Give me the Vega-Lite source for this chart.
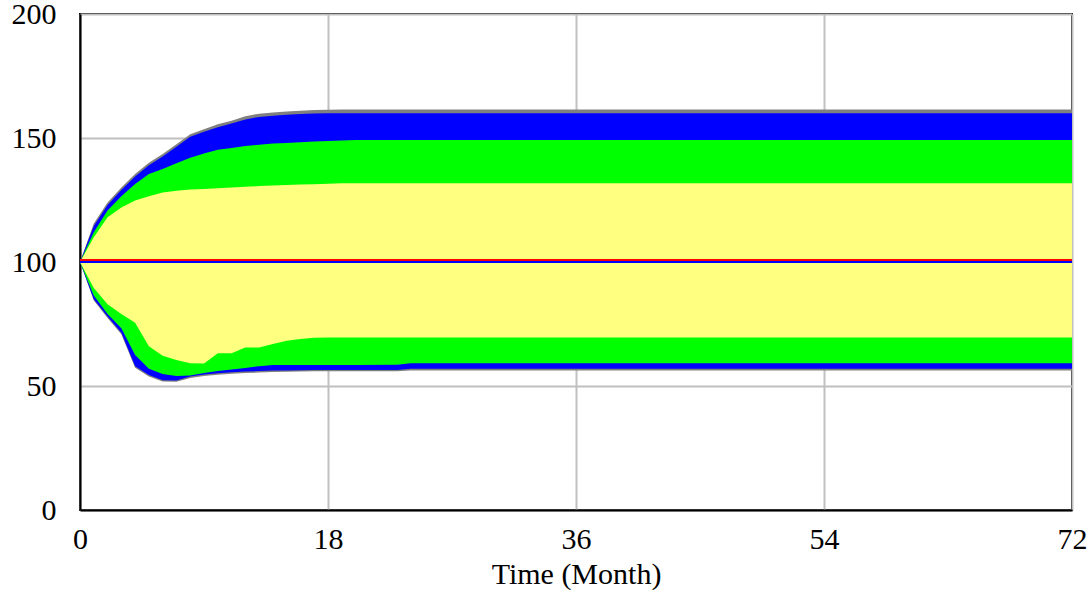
{
  "$schema": "https://vega.github.io/schema/vega-lite/v6.json",
  "autosize": {"type": "none"},
  "padding": {"left": 80, "top": 14, "right": 20, "bottom": 84},
  "width": 992,
  "height": 496,
  "background": "white",
  "config": {
    "view": {"stroke": "black", "strokeWidth": 2},
    "font": "Liberation Serif",
    "axis": {
      "labelFont": "Liberation Serif",
      "titleFont": "Liberation Serif",
      "labelFontSize": 30,
      "titleFontSize": 30,
      "titleFontWeight": "normal",
      "labelColor": "black",
      "titleColor": "black",
      "domainColor": "black",
      "domainWidth": 2,
      "ticks": false,
      "gridColor": "#c0c0c0",
      "gridWidth": 2,
      "gridOpacity": 1,
      "zindex": 1
    }
  },
  "data": {
    "values": [
      {"t": 0, "gmax": 100, "bhi": 100, "ghi": 100, "yhi": 100, "ylo": 100, "glo": 100, "blo": 100, "gmin": 100, "base": 100},
      {"t": 1, "gmax": 115.5, "bhi": 114.5, "ghi": 112, "yhi": 110, "ylo": 89.5, "glo": 86.5, "blo": 85, "gmin": 84.5, "base": 100},
      {"t": 2, "gmax": 124, "bhi": 123, "ghi": 120.8, "yhi": 118, "ylo": 83, "glo": 79, "blo": 78, "gmin": 77.4, "base": 100},
      {"t": 3, "gmax": 130, "bhi": 129, "ghi": 126.5, "yhi": 122, "ylo": 79, "glo": 73.3, "blo": 71.5, "gmin": 70.9, "base": 100},
      {"t": 4, "gmax": 135.5, "bhi": 134.5, "ghi": 131.5, "yhi": 124.8, "ylo": 75.5, "glo": 62.5, "blo": 58, "gmin": 57.4, "base": 100},
      {"t": 5, "gmax": 140, "bhi": 139, "ghi": 135.5, "yhi": 126.5, "ylo": 66, "glo": 57, "blo": 54.4, "gmin": 53.8, "base": 100},
      {"t": 6, "gmax": 143.5, "bhi": 142.5, "ghi": 137.5, "yhi": 128, "ylo": 62.2, "glo": 54.8, "blo": 52.3, "gmin": 51.8, "base": 100},
      {"t": 7, "gmax": 147.5, "bhi": 146.5, "ghi": 139.8, "yhi": 128.7, "ylo": 60.5, "glo": 54, "blo": 52.2, "gmin": 51.7, "base": 100},
      {"t": 8, "gmax": 151.5, "bhi": 150.5, "ghi": 142, "yhi": 129.2, "ylo": 59.2, "glo": 54.2, "blo": 53.8, "gmin": 53.2, "base": 100},
      {"t": 9, "gmax": 153.5, "bhi": 152.5, "ghi": 143.8, "yhi": 129.4, "ylo": 59.1, "glo": 55.2, "blo": 54.6, "gmin": 54, "base": 100},
      {"t": 10, "gmax": 155.5, "bhi": 154.3, "ghi": 145.3, "yhi": 129.7, "ylo": 63.2, "glo": 56, "blo": 55.1, "gmin": 54.5, "base": 100},
      {"t": 11, "gmax": 157, "bhi": 155.8, "ghi": 146, "yhi": 130, "ylo": 63.2, "glo": 56.7, "blo": 55.5, "gmin": 54.9, "base": 100},
      {"t": 12, "gmax": 158.8, "bhi": 157.5, "ghi": 146.8, "yhi": 130.3, "ylo": 65.5, "glo": 57.3, "blo": 55.8, "gmin": 55.2, "base": 100},
      {"t": 13, "gmax": 159.8, "bhi": 158.5, "ghi": 147.3, "yhi": 130.6, "ylo": 65.5, "glo": 58, "blo": 56, "gmin": 55.4, "base": 100},
      {"t": 14, "gmax": 160.3, "bhi": 159, "ghi": 147.8, "yhi": 130.8, "ylo": 66.9, "glo": 58.5, "blo": 56.2, "gmin": 55.6, "base": 100},
      {"t": 15, "gmax": 160.7, "bhi": 159.4, "ghi": 148, "yhi": 131, "ylo": 68.2, "glo": 58.5, "blo": 56.3, "gmin": 55.7, "base": 100},
      {"t": 16, "gmax": 161, "bhi": 159.7, "ghi": 148.3, "yhi": 131.2, "ylo": 69, "glo": 58.5, "blo": 56.4, "gmin": 55.8, "base": 100},
      {"t": 17, "gmax": 161.3, "bhi": 159.9, "ghi": 148.6, "yhi": 131.4, "ylo": 69.5, "glo": 58.5, "blo": 56.5, "gmin": 55.9, "base": 100},
      {"t": 18, "gmax": 161.4, "bhi": 160, "ghi": 148.8, "yhi": 131.6, "ylo": 69.6, "glo": 58.5, "blo": 56.5, "gmin": 55.9, "base": 100},
      {"t": 19, "gmax": 161.5, "bhi": 160, "ghi": 149, "yhi": 131.8, "ylo": 69.6, "glo": 58.5, "blo": 56.5, "gmin": 55.9, "base": 100},
      {"t": 20, "gmax": 161.5, "bhi": 160, "ghi": 149.2, "yhi": 131.8, "ylo": 69.6, "glo": 58.5, "blo": 56.5, "gmin": 55.9, "base": 100},
      {"t": 23, "gmax": 161.5, "bhi": 160, "ghi": 149.2, "yhi": 131.8, "ylo": 69.6, "glo": 58.6, "blo": 56.5, "gmin": 55.9, "base": 100},
      {"t": 24, "gmax": 161.5, "bhi": 160, "ghi": 149.2, "yhi": 131.8, "ylo": 69.6, "glo": 59.2, "blo": 57, "gmin": 56.2, "base": 100},
      {"t": 72, "gmax": 161.5, "bhi": 160, "ghi": 149.2, "yhi": 131.8, "ylo": 69.6, "glo": 59.2, "blo": 57, "gmin": 56.2, "base": 100}
    ]
  },
  "encoding": {
    "x": {"field": "t", "type": "quantitative", "scale": {"domain": [0, 72], "nice": false},
          "axis": {"values": [0, 18, 36, 54, 72], "title": "Time (Month)", "labelPadding": 14, "titlePadding": 5, "labelFlush": false}}
  },
  "layer": [
    {
      "mark": {"type": "area", "color": "#808080"},
      "encoding": {
        "y": {"field": "gmax", "type": "quantitative", "scale": {"domain": [0, 200], "nice": false},
              "axis": {"values": [0, 50, 100, 150, 200], "title": null, "labelPadding": 24,
                       "gridColor": {"condition": {"test": "datum.value === 100", "value": "transparent"}, "value": "#c0c0c0"}}},
        "y2": {"field": "gmin"}
      }
    },
    {
      "mark": {"type": "area", "color": "#0000ff"},
      "encoding": {
        "y": {"field": "bhi", "type": "quantitative",
              "axis": {"values": [0, 50, 100, 150, 200], "title": null, "labelPadding": 24,
                       "gridColor": {"condition": {"test": "datum.value === 100", "value": "transparent"}, "value": "#c0c0c0"}}},
        "y2": {"field": "blo"}
      }
    },
    {
      "mark": {"type": "area", "color": "#00ff00"},
      "encoding": {
        "y": {"field": "ghi", "type": "quantitative",
              "axis": {"values": [0, 50, 100, 150, 200], "title": null, "labelPadding": 24,
                       "gridColor": {"condition": {"test": "datum.value === 100", "value": "transparent"}, "value": "#c0c0c0"}}},
        "y2": {"field": "glo"}
      }
    },
    {
      "mark": {"type": "area", "color": "#ffff80"},
      "encoding": {
        "y": {"field": "yhi", "type": "quantitative",
              "axis": {"values": [0, 50, 100, 150, 200], "title": null, "labelPadding": 24,
                       "gridColor": {"condition": {"test": "datum.value === 100", "value": "transparent"}, "value": "#c0c0c0"}}},
        "y2": {"field": "ylo"}
      }
    },
    {
      "mark": {"type": "line", "color": "#0000ff", "strokeWidth": 2},
      "encoding": {
        "y": {"field": "base", "type": "quantitative",
              "axis": {"values": [0, 50, 100, 150, 200], "title": null, "labelPadding": 24,
                       "gridColor": {"condition": {"test": "datum.value === 100", "value": "transparent"}, "value": "#c0c0c0"}}}
      }
    },
    {
      "mark": {"type": "line", "color": "#ff0000", "strokeWidth": 2, "yOffset": -2},
      "encoding": {
        "y": {"field": "base", "type": "quantitative",
              "axis": {"values": [0, 50, 100, 150, 200], "title": null, "labelPadding": 24,
                       "gridColor": {"condition": {"test": "datum.value === 100", "value": "transparent"}, "value": "#c0c0c0"}}}
      }
    }
  ]
}
